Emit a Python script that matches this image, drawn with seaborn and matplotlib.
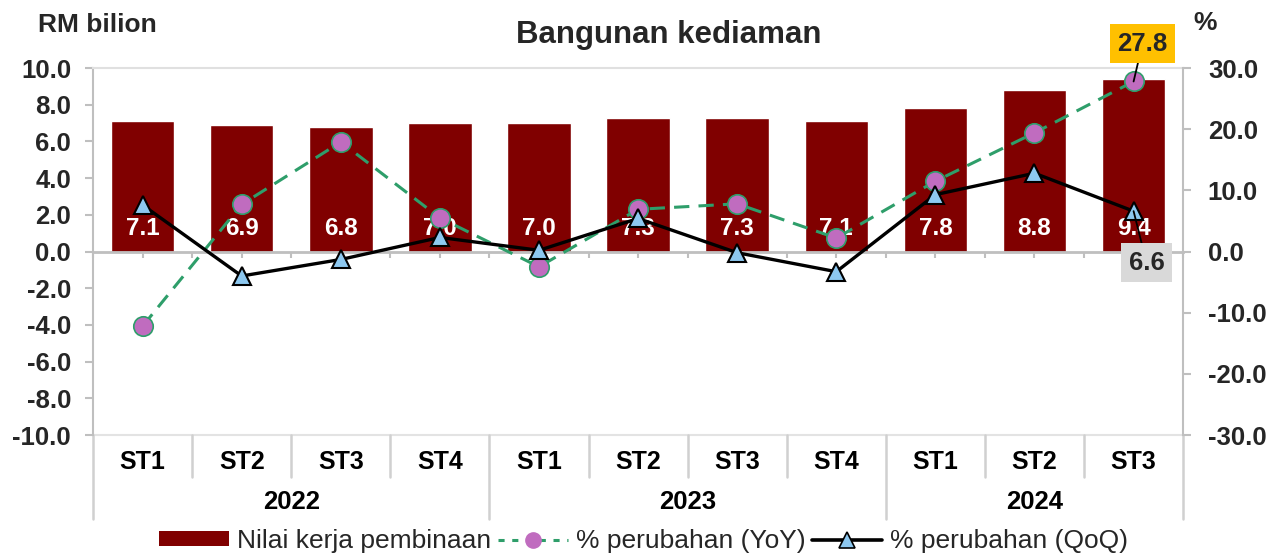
import numpy as np
import pandas as pd
import matplotlib
matplotlib.use('Agg')
import matplotlib.pyplot as plt
import seaborn as sns
from matplotlib.lines import Line2D
from matplotlib.patches import Patch

quarters = ["ST1", "ST2", "ST3", "ST4", "ST1", "ST2", "ST3", "ST4", "ST1", "ST2", "ST3"]
years = ["2022", "2023", "2024"]
year_counts = [4, 4, 3]
nilai = [7.1, 6.9, 6.8, 7.0, 7.0, 7.3, 7.3, 7.1, 7.8, 8.8, 9.4]
yoy = [-12.2, 7.7, 17.9, 5.5, -2.5, 6.9, 7.8, 2.2, 11.5, 19.4, 27.8]
qoq = [7.6, -4.0, -1.3, 2.3, 0.2, 5.4, -0.2, -3.3, 9.3, 12.8, 6.6]

sns.set_theme(style='white')
plt.rcParams['font.family'] = ['Liberation Sans', 'DejaVu Sans']

BAR = '#800000'
GREEN = '#2E9E6A'
PINK = '#C06CBF'
BLUE = '#8DC8F0'
GRAY = '#BFBFBF'

fig = plt.figure(figsize=(12.87, 5.58), dpi=100)
ax = fig.add_axes([0.0723, 0.2204, 0.8470, 0.6577])
df = pd.DataFrame({'pos': list(range(len(nilai))), 'nilai': nilai, 'yoy': yoy, 'qoq': qoq})

sns.barplot(data=df, x='pos', y='nilai', color=BAR, width=0.64, saturation=1,
            ax=ax, native_scale=True, zorder=2)
ax.set_xlim(-0.5, 10.5)
ax.set_ylim(-10, 10)
ax.set_yticks(np.arange(-10, 10.1, 2))
ax.set_yticklabels([f"{v:.1f}" for v in np.arange(-10, 10.1, 2)], fontsize=18.5, fontweight='bold')
ax.set_xlabel('')
ax.set_ylabel('')
ax.set_xticks(np.arange(-0.5, 10.51, 0.5))
ax.set_xticklabels([])
ax.tick_params(axis='x', direction='out', length=4.5, width=1.5, color=GRAY, bottom=True)
ax.tick_params(axis='y', direction='out', length=5.8, width=1.5, color=GRAY, left=True, pad=10)
ax.spines['bottom'].set_position(('data', 0))
ax.spines['bottom'].set_color(GRAY)
ax.spines['bottom'].set_linewidth(2)
ax.spines['left'].set_color(GRAY)
ax.spines['left'].set_linewidth(1.5)
ax.spines['top'].set_color('#E0E0E0')
ax.spines['top'].set_linewidth(1.5)
ax.spines['right'].set_visible(False)
ax.plot([-0.5, 10.5], [-10, -10], color='#E3E3E3', lw=1.5, clip_on=False, zorder=1)

for i, v in enumerate(nilai):
    ax.text(i, 1.25, f"{v:.1f}", ha='center', va='center', color='white',
            fontsize=17.5, fontweight='bold', zorder=3)

ax2 = ax.twinx()
sns.lineplot(data=df, x='pos', y='yoy', ax=ax2, color=GREEN, linestyle=(0, (5, 3)), lw=2.2,
             marker='o', markersize=14, markerfacecolor=PINK, markeredgecolor=GREEN,
             markeredgewidth=1.2, zorder=3)
sns.lineplot(data=df, x='pos', y='qoq', ax=ax2, color='black', lw=2.4,
             marker='^', markersize=13.5, markerfacecolor=BLUE, markeredgecolor='black',
             markeredgewidth=1.5, zorder=4)
ax2.set_ylim(-30, 30)
ax2.set_xlim(-0.5, 10.5)
ax2.set_yticks(np.arange(-30, 30.1, 10))
ax2.set_yticklabels([f"{v:.1f}" for v in np.arange(-30, 30.1, 10)], fontsize=18.5, fontweight='bold')
ax2.set_ylabel('')
ax2.set_xlabel('')
ax2.tick_params(axis='y', direction='out', length=5.8, width=1.5, color=GRAY, right=True, pad=12)
for s in ['top', 'bottom', 'left']:
    ax2.spines[s].set_visible(False)
ax2.spines['right'].set_color(GRAY)
ax2.spines['right'].set_linewidth(1.5)

ax2.annotate(f"{yoy[-1]:.1f}", xy=(10, yoy[-1]), xytext=(10.09, 34.0), textcoords='data',
             ha='center', va='center', fontsize=18.5, fontweight='bold', annotation_clip=False,
             bbox=dict(boxstyle='square,pad=0.28', fc='#FFC000', ec='none'),
             arrowprops=dict(arrowstyle='-', color='black', lw=1.3, shrinkA=0, shrinkB=0), zorder=6)
ax2.annotate(f"{qoq[-1]:.1f}", xy=(10, qoq[-1]), xytext=(10.13, -1.8), textcoords='data',
             ha='center', va='center', fontsize=18.5, fontweight='bold', annotation_clip=False,
             bbox=dict(boxstyle='square,pad=0.28', fc='#D9D9D9', ec='none'),
             arrowprops=dict(arrowstyle='-', color='black', lw=1.3, shrinkA=0, shrinkB=0), zorder=6)

# multi-level category axis
trans = ax.get_xaxis_transform()
for i, q in enumerate(quarters):
    ax.text(i, -0.0736, q, transform=trans, ha='center', va='center', fontsize=18,
            fontweight='bold', color='black')
start = 0
bounds = [-0.5]
for y, c in zip(years, year_counts):
    ax.text(start + (c - 1) / 2, -0.1826, y, transform=trans, ha='center', va='center',
            fontsize=18.5, fontweight='bold', color='black')
    start += c
    bounds.append(start - 0.5)
for b in np.arange(-0.5, 10.51, 1):
    low = -0.229 if any(abs(b - bb) < 1e-6 for bb in bounds) else -0.114
    ax.plot([b, b], [0, low], transform=trans, color='#D0D0D0', lw=1.8, clip_on=False)

fig.text(0.52, 0.937, 'Bangunan kediaman', ha='center', va='center', fontsize=22.5, fontweight='bold')
fig.text(0.0755, 0.956, 'RM bilion', ha='center', va='center', fontsize=19, fontweight='bold')
fig.text(0.936, 0.958, '%', ha='center', va='center', fontsize=19, fontweight='bold')

handles = [
    Patch(facecolor=BAR, edgecolor='none'),
    Line2D([], [], color=GREEN, linestyle=(0, (2, 2.5)), lw=2.2, marker='o', markersize=11,
           markerfacecolor=PINK, markeredgecolor=PINK),
    Line2D([], [], color='black', lw=2.6, marker='^', markersize=12, markerfacecolor=BLUE,
           markeredgecolor='black', markeredgewidth=1.2),
]
labels = ['Nilai kerja pembinaan', '% perubahan (YoY)', '% perubahan (QoQ)']
fig.legend(handles, labels, loc='center', bbox_to_anchor=(0.5, 0.03), ncol=3, frameon=False,
           fontsize=19, handlelength=2.65, handletextpad=0.3, columnspacing=0.25, handleheight=0.5,
           borderpad=0.1)

fig.savefig('out.png', dpi=100)
